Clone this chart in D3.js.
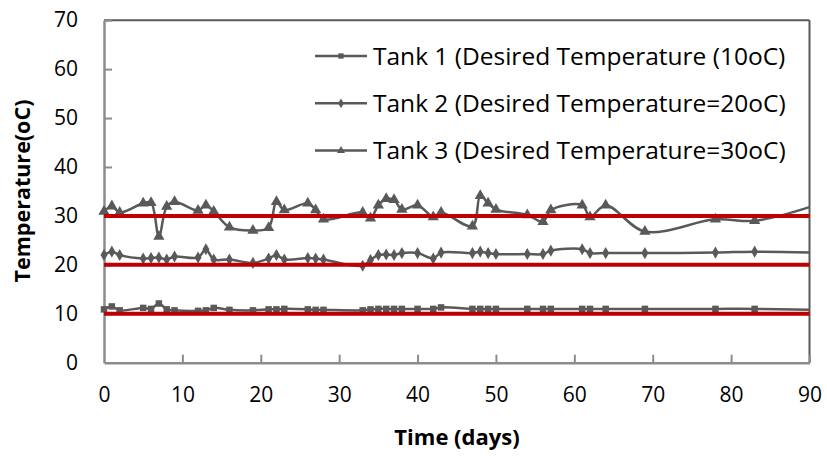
<!DOCTYPE html>
<html>
<head>
<meta charset="utf-8">
<script src="https://cdn.jsdelivr.net/npm/d3@7"></script>
<style>
  body { margin: 0; background: #fff; }
  text { font-family: 'Open Sans', sans-serif; fill: #000; }
</style>
</head>
<body>
<svg id="chart" width="827" height="456"></svg>
<script>
const days = [0, 1, 2, 5, 6, 7, 8, 9, 12, 13, 14, 16, 19, 21, 22, 23, 26, 27, 28, 33, 34, 35, 36, 37, 38, 40, 42, 43, 47, 48, 49, 50, 54, 56, 57, 61, 62, 64, 69, 78, 83, 90];
const tank1 = [10.9, 11.5, 10.7, 11.2, 11.0, 12.1, 10.9, 10.7, 10.6, 10.7, 11.2, 10.8, 10.7, 10.9, 10.9, 11.0, 10.9, 10.8, 10.8, 10.7, 10.9, 11.0, 11.0, 11.0, 11.0, 11.0, 11.0, 11.3, 11.0, 11.0, 11.0, 11.0, 11.0, 11.0, 11.0, 11.0, 11.0, 11.0, 11.0, 11.0, 11.0, 10.8];
const tank2 = [22.0, 22.7, 22.0, 21.3, 21.4, 21.5, 21.1, 21.7, 21.5, 23.2, 21.1, 21.1, 20.4, 21.3, 22.0, 21.1, 21.4, 21.3, 21.1, 19.8, 21.0, 22.0, 22.1, 22.0, 22.4, 22.4, 21.3, 22.5, 22.4, 22.7, 22.4, 22.2, 22.2, 22.2, 22.9, 23.2, 22.4, 22.4, 22.4, 22.5, 22.7, 22.5];
const tank3 = [30.9, 32.0, 30.7, 32.6, 32.7, 25.8, 31.9, 32.9, 31.1, 32.2, 30.9, 27.7, 27.0, 27.6, 32.9, 31.2, 32.6, 31.2, 29.3, 30.7, 29.5, 32.2, 33.5, 33.3, 31.3, 32.2, 29.8, 30.7, 27.9, 34.1, 32.6, 31.3, 30.2, 28.8, 31.2, 32.2, 29.8, 32.2, 26.8, 29.3, 29.0, 31.8];
const desired = [10, 20, 30];
const seriesNames = ['Tank 1 (Desired Temperature (10oC)', 'Tank 2 (Desired Temperature=20oC)', 'Tank 3 (Desired Temperature=30oC)'];
const xTicks = [0, 10, 20, 30, 40, 50, 60, 70, 80, 90];
const yTicks = [0, 10, 20, 30, 40, 50, 60, 70];

const svg = d3.select('#chart');
const x = d3.scaleLinear().domain([0, 90]).range([104, 809.5]);
const y = d3.scaleLinear().domain([0, 70]).range([362.7, 20.2]);
const grey = '#595959';

// frame: top and right
svg.append('line').attr('x1', x(0)).attr('x2', x(90)).attr('y1', y(70)).attr('y2', y(70))
  .attr('stroke', grey).attr('stroke-width', 2);
svg.append('line').attr('x1', x(90)).attr('x2', x(90)).attr('y1', y(70)).attr('y2', y(0))
  .attr('stroke', grey).attr('stroke-width', 2);

// axes
const yAxis = svg.append('g').attr('transform', `translate(${x(0)},0)`)
  .call(d3.axisLeft(y).tickValues(yTicks).tickSizeInner(-8).tickSizeOuter(0).tickPadding(26));
const xAxis = svg.append('g').attr('transform', `translate(0,${y(0)})`)
  .call(d3.axisBottom(x).tickValues(xTicks).tickSizeInner(-8).tickSizeOuter(0).tickPadding(24));
[xAxis, yAxis].forEach(g => {
  g.select('.domain').attr('stroke', '#8c8c8c').attr('stroke-width', 2.5);
  g.selectAll('.tick line').attr('stroke', '#8c8c8c').attr('stroke-width', 2);
  g.selectAll('.tick text').attr('font-size', 21).attr('fill', '#000').attr('font-family', "'Open Sans', sans-serif");
});
yAxis.selectAll('.tick').filter(d => d === 0).select('line').remove();
xAxis.selectAll('.tick').filter(d => d === 0).select('line').remove();

// series
const rows = [tank1, tank2, tank3];
const line = d3.line().x(d => x(d[0])).y(d => y(d[1])).curve(d3.curveCatmullRom.alpha(0.5));
const shapes = [d3.symbolSquare, d3.symbolDiamond, d3.symbolTriangle];
const sizes = [42, 42, 55];

rows.forEach((vals, i) => {
  const pts = days.map((d, j) => [d, vals[j]]);
  svg.append('path').datum(pts).attr('d', line).attr('fill', 'none')
    .attr('stroke', grey).attr('stroke-width', 2.5);
  svg.append('g').selectAll('path').data(pts.slice(0, -1)).join('path')
    .attr('transform', d => `translate(${x(d[0])},${y(d[1])})`)
    .attr('d', d3.symbol().type(shapes[i]).size(sizes[i]))
    .attr('fill', grey);
});

// desired temperature lines
svg.append('g').selectAll('line').data(desired).join('line')
  .attr('x1', x(0)).attr('x2', x(90))
  .attr('y1', d => y(d)).attr('y2', d => y(d))
  .attr('stroke', '#c00000').attr('stroke-width', 4);

// legend
const legend = svg.append('g');
seriesNames.forEach((name, i) => {
  const ly = 56 + i * 47.3;
  legend.append('line').attr('x1', 315).attr('x2', 367).attr('y1', ly).attr('y2', ly)
    .attr('stroke', grey).attr('stroke-width', 2.5);
  legend.append('path').attr('transform', `translate(341,${ly})`)
    .attr('d', d3.symbol().type(shapes[i]).size(28)).attr('fill', grey);
  legend.append('text').attr('x', 373).attr('y', ly).attr('dy', '0.35em')
    .attr('font-size', 24.5).text(name);
});

// axis titles
svg.append('text').attr('x', 457).attr('y', 437).attr('dy', '0.35em')
  .attr('text-anchor', 'middle').attr('font-size', 22).attr('font-weight', 'bold').text('Time (days)');
svg.append('text').attr('transform', 'translate(22,191) rotate(-90)').attr('dy', '0.35em')
  .attr('text-anchor', 'middle').attr('font-size', 21.5).attr('font-weight', 'bold').text('Temperature(oC)');
</script>
</body>
</html>
